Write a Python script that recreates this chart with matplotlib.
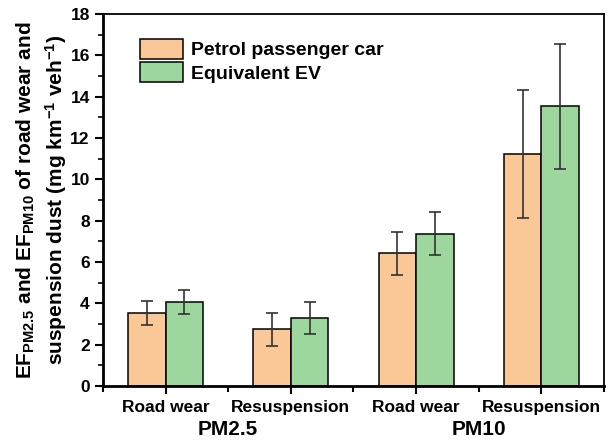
import numpy as np
import matplotlib
matplotlib.use('Agg')
import matplotlib.pyplot as plt
import matplotlib.ticker as mticker

plt.rcParams['font.family'] = ['Liberation Sans', 'DejaVu Sans']
plt.rcParams['font.weight'] = 'bold'
plt.rcParams['mathtext.fontset'] = 'custom'
plt.rcParams['mathtext.rm'] = 'Liberation Sans:bold'
plt.rcParams['mathtext.bf'] = 'Liberation Sans:bold'
plt.rcParams['mathtext.it'] = 'Liberation Sans:bold'
plt.rcParams['mathtext.default'] = 'bf'

# data
categories = ['Road wear', 'Resuspension', 'Road wear', 'Resuspension']
groups = ['PM2.5', 'PM10']
series = ['Petrol passenger car', 'Equivalent EV']
petrol = [3.53, 2.74, 6.42, 11.22]
petrol_err = [0.57, 0.80, 1.03, 3.10]
ev = [4.05, 3.30, 7.37, 13.53]
ev_err = [0.58, 0.78, 1.05, 3.04]

c_petrol = '#F9C896'
c_ev = '#9ED79E'

fig = plt.figure(figsize=(6.08, 4.41), dpi=100)
ax = fig.add_axes([0.1694, 0.1247, 0.8240, 0.8436])

x = np.arange(1, len(categories) + 1)
w = 0.30
ekw = dict(ecolor='#333333', elinewidth=1.2, capsize=4, capthick=1.2)
ax.bar(x - w / 2, petrol, w, yerr=petrol_err, color=c_petrol, edgecolor='black',
       linewidth=1.1, label=series[0], error_kw=ekw)
ax.bar(x + w / 2, ev, w, yerr=ev_err, color=c_ev, edgecolor='black',
       linewidth=1.1, label=series[1], error_kw=ekw)

ax.set_xlim(0.5, 4.5)
ax.set_ylim(0, 18)
ax.yaxis.set_major_locator(mticker.MultipleLocator(2))
ax.yaxis.set_minor_locator(mticker.MultipleLocator(1))
ax.set_xticks(x)
ax.set_xticklabels(categories, fontsize=12.5, fontweight='bold')
ax.set_xticks([0.5, 1.5, 2.5, 3.5, 4.5], minor=True)
ax.tick_params(axis='y', labelsize=12.5, width=1.5, length=6, direction='out')
ax.tick_params(axis='y', which='minor', width=1.2, length=3.5)
ax.tick_params(axis='x', width=1.5, length=6, pad=4)
ax.tick_params(axis='x', which='minor', width=1.5, length=4)
for lab in ax.get_yticklabels():
    lab.set_fontweight('bold')

for s in ['left', 'bottom']:
    ax.spines[s].set_linewidth(2)
for s in ['top', 'right']:
    ax.spines[s].set_linewidth(1.3)

for i, g in enumerate(groups):
    ax.text(1.5 + 2 * i, -0.118, g, transform=ax.get_xaxis_transform(),
            ha='center', va='center', fontsize=15, fontweight='bold')

ax.set_ylabel('EF$_{PM2.5}$ and EF$_{PM10}$ of road wear and\n'
              'suspension dust (mg km$^{-1}$ veh$^{-1}$)',
              fontsize=15, fontweight='bold', labelpad=1, linespacing=1.3)

ax.legend(loc='upper left', bbox_to_anchor=(0.05, 0.965), frameon=False,
          fontsize=14, handlelength=2.25, handleheight=1.25, handletextpad=0.4,
          labelspacing=0.12, borderaxespad=0.2)

fig.savefig('out.png', dpi=100)
